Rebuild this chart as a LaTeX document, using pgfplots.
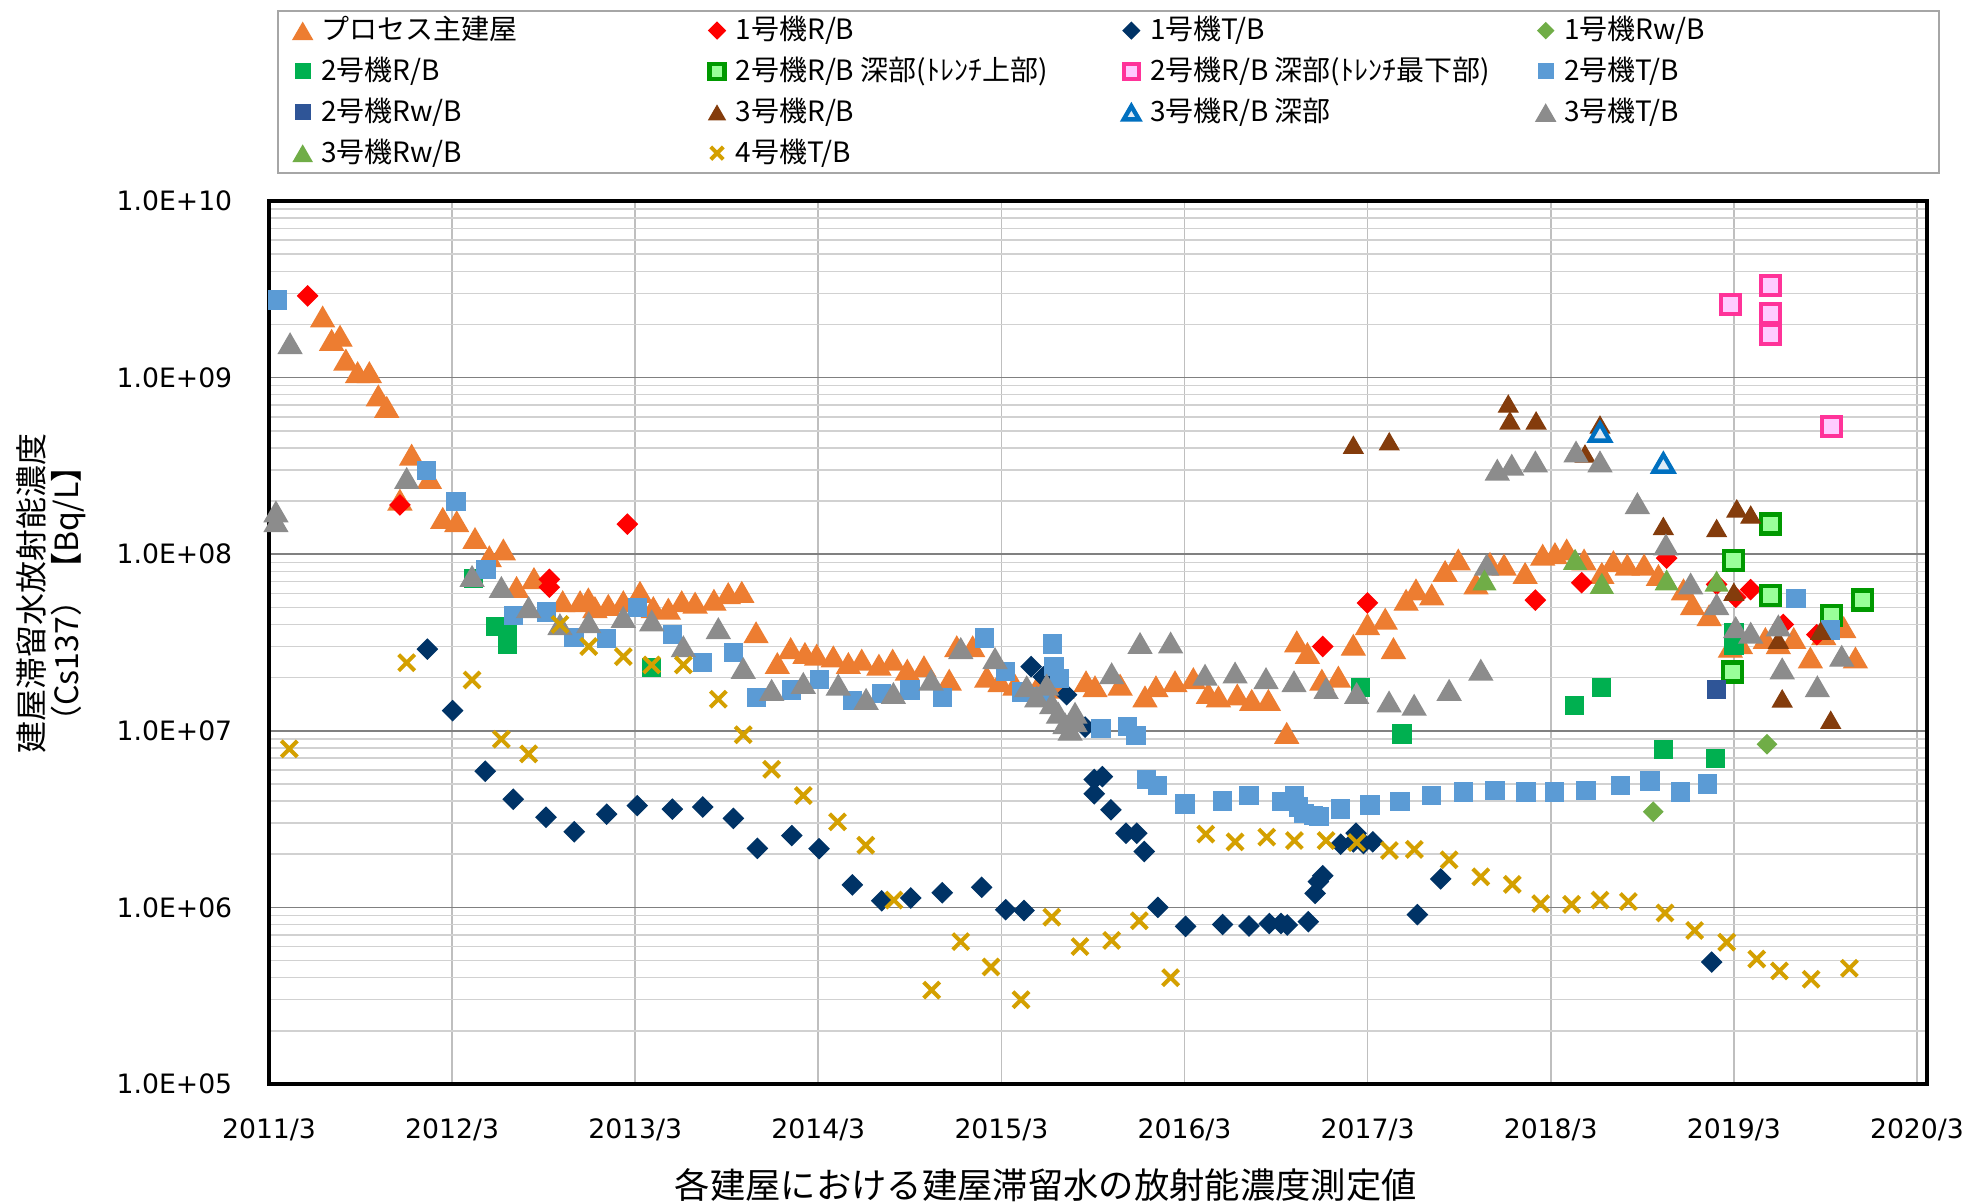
\documentclass[border=0pt]{standalone}
\usepackage{pgfplots}
\pgfplotsset{compat=1.18}
\usepackage{fontspec}
\newfontfamily\jp{Noto Sans CJK JP}
\newfontfamily\tickfont{DejaVu Sans}
\definecolor{cOrange}{HTML}{ED7D31}
\definecolor{cRed}{HTML}{FF0000}
\definecolor{cNavy}{HTML}{003366}
\definecolor{cLGreen}{HTML}{70AD47}
\definecolor{cGreen}{HTML}{00B050}
\definecolor{cDGreen}{HTML}{009900}
\definecolor{cDGreenF}{HTML}{99FF99}
\definecolor{cPink}{HTML}{FF3399}
\definecolor{cPinkF}{HTML}{FFCCFF}
\definecolor{cBlue}{HTML}{5B9BD5}
\definecolor{cRwB}{HTML}{2F5597}
\definecolor{cBrown}{HTML}{843C0C}
\definecolor{cTBlue}{HTML}{0070C0}
\definecolor{cTBlueF}{HTML}{DEEBF7}
\definecolor{cGray}{HTML}{8C8C8C}
\definecolor{cGold}{HTML}{D4A000}
\definecolor{cLeg}{HTML}{A6A6A6}
\newcommand{\lt}[1]{\makebox[113.1pt][l]{\rule[-2pt]{0pt}{8pt}#1}}
\newcommand{\ltl}[1]{\makebox[107.5pt][l]{\rule[-2pt]{0pt}{8pt}#1}}
\begin{document}
\begin{tikzpicture}
\path[use as bounding box] (-80.7pt,-36pt) rectangle (510.9pt,325.2pt);
\begin{axis}[
  at={(0pt,0pt)}, anchor=south west,
  width=497.4pt, height=264.9pt, scale only axis,
  xmin=0, xmax=9.055, ymode=log, log basis y=10, ymin=1e5, ymax=1e10,
  clip=false,
  xtick={0,1,2,3,4,5,6,7,8,9},
  xticklabels={2011/3,2012/3,2013/3,2014/3,2015/3,2016/3,2017/3,2018/3,2019/3,2020/3},
  ytick={1e5,1e6,1e7,1e8,1e9,1e10},
  yticklabels={1.0E+05,1.0E+06,1.0E+07,1.0E+08,1.0E+09,1.0E+10},
  minor ytick={2e5,3e5,4e5,5e5,6e5,7e5,8e5,9e5,2e6,3e6,4e6,5e6,6e6,7e6,8e6,9e6,2e7,3e7,4e7,5e7,6e7,7e7,8e7,9e7,2e8,3e8,4e8,5e8,6e8,7e8,8e8,9e8,2e9,3e9,4e9,5e9,6e9,7e9,8e9,9e9},
  xmajorgrids=true, ymajorgrids=true, yminorgrids=true,
  major x grid style={draw=black!25, line width=0.5pt},
  major y grid style={draw=black!50, line width=0.5pt},
  minor y grid style={draw=black!18, line width=0.45pt},
  major tick length=0pt, minor tick length=0pt,
  axis line style={line width=1.2pt, black},
  /pgf/number format/assume math mode=true,
  xticklabel style={font=\tickfont\fontsize{8}{9}\selectfont, yshift=-6.8pt},
  yticklabel style={font=\tickfont\fontsize{8}{9}\selectfont, xshift=-7.5pt},
  every axis y label/.style={at={(axis description cs:-0.1312,0.555)}, anchor=center, rotate=90, align=center, font=\jp\fontsize{9.6}{10.5}\selectfont},
  ylabel={建屋滞留水放射能濃度\\（Cs137）【Bq/L】},
  every axis x label/.style={at={(axis description cs:0.4686,-0.1144)}, anchor=center, font=\jp\fontsize{10.6}{12}\selectfont},
  xlabel={各建屋における建屋滞留水の放射能濃度測定値},
  legend columns=4, legend cell align=left,
  legend style={at={(axis description cs:0.00483,1.2163)}, anchor=north west, draw=cLeg, line width=0.6pt,
    inner xsep=3.4pt, inner ysep=0.6pt, row sep=1.7pt, font=\jp\fontsize{8.4}{10}\selectfont,
    nodes={inner xsep=1.6pt, inner ysep=1pt}},
  legend image code/.code={\path[draw=none,fill=none] (0pt,-1pt) rectangle (8pt,1pt); \draw[mark repeat=2,mark phase=2,#1] plot coordinates {(0pt,0pt)(4pt,0pt)(8pt,0pt)};},
  legend image post style={every mark/.append style={scale=0.78}},
]
% プロセス主建屋
\addplot[only marks, mark=triangle*, mark size=4pt, color=cOrange, mark options={yshift=-1pt}] coordinates {
(0.293,2.21e9)(0.342,1.63e9)(0.388,1.72e9)(0.42,1.26e9)(0.484,1.07e9)(0.548,1.07e9)(0.597,7.9e8)(0.643,6.8e8)(0.715,2.03e8)(0.779,3.65e8)(0.876,2.69e8)(0.949,1.6e8)(1.025,1.53e8)(1.125,1.23e8)(1.203,9.7e7)(1.28,1.06e8)(1.352,6.5e7)(1.447,7.3e7)(1.604,5.4e7)(1.699,5.4e7)(1.744,5.6e7)(1.78,5.0e7)(1.853,5.15e7)(1.935,5.4e7)(2.026,6.1e7)(2.099,5.0e7)(2.181,4.9e7)(2.254,5.4e7)(2.327,5.3e7)(2.43,5.5e7)(2.508,6.0e7)(2.582,6.1e7)(2.66,3.6e7)(2.776,2.41e7)(2.849,2.93e7)(2.927,2.75e7)(2.991,2.69e7)(3.082,2.63e7)(3.164,2.41e7)(3.237,2.52e7)(3.331,2.36e7)(3.406,2.52e7)(3.486,2.21e7)(3.577,2.31e7)(3.715,1.94e7)(3.756,3.0e7)(3.843,3.0e7)(3.92,2.02e7)(3.992,1.9e7)(4.074,1.82e7)(4.2,1.8e7)(4.33,1.75e7)(4.462,1.9e7)(4.511,1.78e7)(4.648,1.82e7)(4.784,1.56e7)(4.844,1.78e7)(4.948,1.9e7)(5.048,1.98e7)(5.13,1.63e7)(5.185,1.56e7)(5.288,1.6e7)(5.367,1.49e7)(5.458,1.49e7)(5.558,9.7e6)(5.613,3.2e7)(5.671,2.75e7)(5.75,1.94e7)(5.84,2.02e7)(5.922,3.06e7)(5.999,4.0e7)(6.096,4.3e7)(6.141,2.93e7)(6.21,5.5e7)(6.264,6.3e7)(6.35,5.9e7)(6.423,8.0e7)(6.495,9.3e7)(6.592,6.8e7)(6.668,8.9e7)(6.745,8.7e7)(6.86,7.8e7)(6.956,9.9e7)(7.023,1.01e8)(7.087,1.06e8)(7.182,9.3e7)(7.279,7.8e7)(7.342,9.1e7)(7.418,8.7e7)(7.51,8.7e7)(7.588,7.6e7)(7.725,6.3e7)(7.775,5.2e7)(7.865,4.5e7)(7.981,2.98e7)(8.036,3.12e7)(8.172,3.34e7)(8.243,3.12e7)(8.327,3.34e7)(8.418,2.59e7)(8.491,3.51e7)(8.6,3.85e7)(8.664,2.59e7)
};
\addlegendentry{\lt{プロセス主建屋}}
% 1号機R/B
\addplot[only marks, mark=square*, mark size=2.1pt, color=cRed, mark options={rotate=45}] coordinates {
(0.211,2.9e9)(0.715,1.9e8)(1.531,7.2e7)(1.531,6.5e7)(1.957,1.48e8)(5.755,3.0e7)(5.999,5.3e7)(6.916,5.5e7)(7.169,6.9e7)(7.633,9.5e7)(7.906,6.75e7)(8.01,5.7e7)(8.092,6.3e7)(8.27,4.0e7)(8.453,3.5e7)
};
\addlegendentry{\lt{1号機R/B}}
% 1号機T/B
\addplot[only marks, mark=square*, mark size=2.1pt, color=cNavy, mark options={rotate=45}] coordinates {
(0.865,2.9e7)(1.003,1.3e7)(1.181,5.9e6)(1.334,4.1e6)(1.513,3.24e6)(1.667,2.68e6)(1.844,3.37e6)(2.011,3.77e6)(2.203,3.6e6)(2.369,3.7e6)(2.536,3.19e6)(2.667,2.16e6)(2.855,2.55e6)(3.004,2.15e6)(3.186,1.34e6)(3.346,1.09e6)(3.505,1.13e6)(3.677,1.21e6)(3.892,1.3e6)(4.023,9.7e5)(4.123,9.6e5)(4.162,2.31e7)(4.229,2.02e7)(4.356,1.6e7)(4.457,1.05e7)(4.507,5.3e6)(4.551,5.5e6)(4.507,4.4e6)(4.598,3.57e6)(4.68,2.63e6)(4.739,2.63e6)(4.78,2.07e6)(4.854,1.0e6)(5.006,7.8e5)(5.208,8.0e5)(5.352,7.85e5)(5.463,8.1e5)(5.527,8.1e5)(5.561,7.95e5)(5.676,8.3e5)(5.713,1.2e6)(5.731,1.4e6)(5.755,1.51e6)(5.853,2.28e6)(5.922,2.35e6)(5.937,2.63e6)(5.977,2.3e6)(6.028,2.35e6)(6.272,9.1e5)(6.399,1.45e6)(7.879,4.9e5)
};
\addlegendentry{\lt{1号機T/B}}
% 1号機Rw/B
\addplot[only marks, mark=square*, mark size=2.0pt, color=cLGreen, mark options={rotate=45}] coordinates {
(7.56,3.48e6)(8.181,8.4e6)
};
\addlegendentry{\ltl{1号機Rw/B}}
% 2号機R/B
\addplot[only marks, mark=square*, mark size=2.7pt, color=cGreen] coordinates {
(1.116,7.3e7)(1.24,3.9e7)(1.302,3.6e7)(1.302,3.1e7)(2.09,2.29e7)(5.962,1.76e7)(6.188,9.6e6)(7.129,1.39e7)(7.278,1.76e7)(7.615,7.85e6)(7.899,6.95e6)(8.0,3.58e7)(8.0,3.05e7)
};
\addlegendentry{\lt{2号機R/B}}
% 2号機R/B 深部(トレンチ上部)
\addplot[only marks, mark=square*, mark size=2.85pt, color=cDGreen, mark options={fill=cDGreenF, draw=cDGreen, line width=1.3pt}] coordinates {
(7.992,2.15e7)(7.997,9.2e7)(8.201,1.48e8)(8.201,5.85e7)(8.535,4.5e7)(8.702,5.5e7)
};
\addlegendentry{\lt{2号機R/B 深部(ﾄﾚﾝﾁ上部)}}
% 2号機R/B 深部(トレンチ最下部)
\addplot[only marks, mark=square*, mark size=2.85pt, color=cPink, mark options={fill=cPinkF, draw=cPink, line width=1.3pt}] coordinates {
(7.983,2.6e9)(8.201,3.33e9)(8.201,2.3e9)(8.201,1.75e9)(8.535,5.3e8)
};
\addlegendentry{\lt{2号機R/B 深部(ﾄﾚﾝﾁ最下部)}}
% 2号機T/B
\addplot[only marks, mark=square*, mark size=2.7pt, color=cBlue] coordinates {
(0.047,2.75e9)(0.861,2.98e8)(1.021,1.98e8)(1.185,8.2e7)(1.334,4.5e7)(1.517,4.7e7)(1.666,3.38e7)(1.844,3.32e7)(2.013,5.0e7)(2.203,3.5e7)(2.366,2.43e7)(2.536,2.77e7)(2.663,1.55e7)(2.855,1.7e7)(3.005,1.96e7)(3.186,1.48e7)(3.346,1.63e7)(3.5,1.7e7)(3.677,1.55e7)(3.906,3.35e7)(4.023,2.16e7)(4.111,1.66e7)(4.22,1.56e7)(4.278,3.1e7)(4.287,2.31e7)(4.316,1.98e7)(4.544,1.03e7)(4.689,1.06e7)(4.735,9.4e6)(4.793,5.3e6)(4.854,4.9e6)(5.003,3.85e6)(5.207,4.0e6)(5.352,4.3e6)(5.531,3.97e6)(5.6,4.3e6)(5.622,3.7e6)(5.653,3.4e6)(5.704,3.3e6)(5.735,3.26e6)(5.85,3.6e6)(6.013,3.8e6)(6.177,3.97e6)(6.35,4.3e6)(6.523,4.5e6)(6.696,4.6e6)(6.865,4.5e6)(7.02,4.5e6)(7.192,4.6e6)(7.382,4.9e6)(7.542,5.2e6)(7.708,4.5e6)(7.857,5.0e6)(8.34,5.6e7)(8.529,3.73e7)
};
\addlegendentry{\ltl{2号機T/B}}
% 2号機Rw/B
\addplot[only marks, mark=square*, mark size=2.7pt, color=cRwB] coordinates {
(7.906,1.72e7)
};
\addlegendentry{\lt{2号機Rw/B}}
% 3号機R/B
\addplot[only marks, mark=triangle*, mark size=3.3pt, color=cBrown, mark options={yshift=-0.8pt}] coordinates {
(5.922,4.15e8)(6.118,4.34e8)(6.768,7.1e8)(6.777,5.7e8)(6.92,5.7e8)(7.187,3.7e8)(7.269,5.4e8)(7.615,3.35e8)(7.615,1.44e8)(7.906,1.4e8)(8.0,6.1e7)(8.016,1.81e8)(8.092,1.67e8)(8.243,3.27e7)(8.264,1.52e7)(8.474,3.67e7)(8.529,1.15e7)
};
\addlegendentry{\lt{3号機R/B}}
% 3号機R/B 深部
\addplot[only marks, mark=triangle*, mark size=3.4pt, color=cTBlue, mark options={fill=cTBlueF, draw=cTBlue, line width=1.3pt, yshift=-0.8pt}] coordinates {
(7.269,4.9e8)(7.615,3.27e8)
};
\addlegendentry{\lt{3号機R/B 深部}}
% 3号機T/B
\addplot[only marks, mark=triangle*, mark size=4pt, color=cGray, mark options={yshift=-1pt}] coordinates {
(0.038,1.74e8)(0.038,1.53e8)(0.115,1.56e9)(0.752,2.69e8)(1.109,7.5e7)(1.269,6.5e7)(1.418,5.0e7)(1.589,4.0e7)(1.746,4.1e7)(1.935,4.4e7)(2.09,4.2e7)(2.263,3.0e7)(2.454,3.8e7)(2.59,2.26e7)(2.745,1.7e7)(2.918,1.86e7)(3.109,1.82e7)(3.261,1.51e7)(3.41,1.63e7)(3.616,1.94e7)(3.778,2.93e7)(3.965,2.57e7)(4.138,1.78e7)(4.193,1.56e7)(4.247,1.82e7)(4.275,1.43e7)(4.311,1.26e7)(4.347,1.1e7)(4.375,1.01e7)(4.402,1.13e7)(4.402,1.26e7)(4.602,2.11e7)(4.757,3.13e7)(4.924,3.15e7)(5.112,2.07e7)(5.276,2.13e7)(5.445,1.98e7)(5.598,1.9e7)(5.773,1.74e7)(5.94,1.63e7)(6.117,1.46e7)(6.254,1.4e7)(6.445,1.7e7)(6.618,2.21e7)(6.65,8.7e7)(6.708,3.0e8)(6.787,3.2e8)(6.916,3.34e8)(7.138,3.8e8)(7.269,3.34e8)(7.473,1.94e8)(7.629,1.13e8)(7.764,6.8e7)(7.906,5.2e7)(8.01,3.85e7)(8.092,3.58e7)(8.243,3.94e7)(8.264,2.25e7)(8.456,1.78e7)(8.589,2.65e7)
};
\addlegendentry{\ltl{3号機T/B}}
% 3号機Rw/B
\addplot[only marks, mark=triangle*, mark size=3.8pt, color=cLGreen, mark options={yshift=-0.9pt}] coordinates {
(6.638,7.1e7)(7.133,9.3e7)(7.279,6.8e7)(7.633,7.1e7)(7.906,7.0e7)
};
\addlegendentry{\lt{3号機Rw/B}}
% 4号機T/B
\addplot[only marks, mark=x, mark size=3.4pt, color=cGold, mark options={line width=1.2pt}] coordinates {
(0.111,7.9e6)(0.752,2.43e7)(1.109,1.94e7)(1.269,8.96e6)(1.418,7.4e6)(1.589,4.0e7)(1.746,3.0e7)(1.935,2.63e7)(2.09,2.36e7)(2.263,2.36e7)(2.454,1.51e7)(2.59,9.5e6)(2.745,6.05e6)(2.918,4.3e6)(3.105,3.05e6)(3.259,2.25e6)(3.413,1.1e6)(3.619,3.4e5)(3.778,6.4e5)(3.943,4.6e5)(4.107,3.0e5)(4.275,8.8e5)(4.429,6.0e5)(4.602,6.5e5)(4.753,8.4e5)(4.924,4.0e5)(5.116,2.6e6)(5.276,2.35e6)(5.449,2.5e6)(5.6,2.39e6)(5.773,2.39e6)(5.94,2.33e6)(6.119,2.1e6)(6.255,2.13e6)(6.445,1.86e6)(6.618,1.49e6)(6.79,1.35e6)(6.945,1.05e6)(7.114,1.04e6)(7.269,1.1e6)(7.424,1.08e6)(7.624,9.3e5)(7.786,7.4e5)(7.961,6.35e5)(8.125,5.1e5)(8.249,4.37e5)(8.422,3.92e5)(8.631,4.52e5)
};
\addlegendentry{\lt{4号機T/B}}
\end{axis}
\end{tikzpicture}
\end{document}
